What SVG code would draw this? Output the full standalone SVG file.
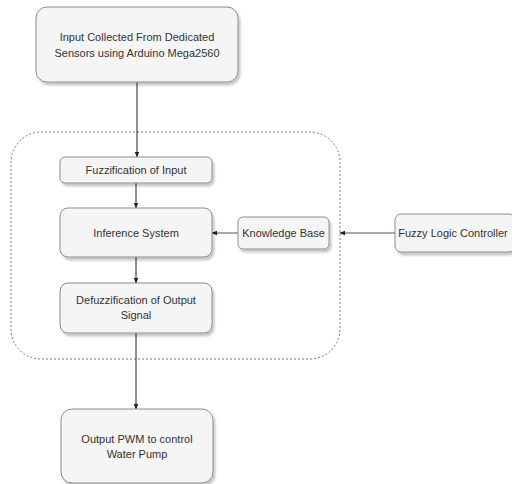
<svg xmlns="http://www.w3.org/2000/svg" width="512" height="484" viewBox="0 0 512 484">
<defs>
<marker id="ah" viewBox="0 0 10 10" refX="9" refY="5" markerWidth="6" markerHeight="6" orient="auto" markerUnits="userSpaceOnUse">
<path d="M0,1 L10,5 L0,9 Z" fill="#222"/>
</marker>
<filter id="sh" x="-10%" y="-10%" width="130%" height="140%">
<feDropShadow dx="2" dy="3" stdDeviation="1" flood-color="#000" flood-opacity="0.22"/>
</filter>
<style>
.box{fill:#f5f5f5;stroke:#8c8c8c;stroke-width:1;filter:url(#sh);}
.t{font-family:"Liberation Sans",Arial,sans-serif;font-size:11px;fill:#333;text-anchor:middle;}
.c{stroke:#222;stroke-width:1;fill:none;marker-end:url(#ah);}
.c2{stroke:#555;stroke-width:1;fill:none;marker-end:url(#ah);}
</style>
</defs>
<rect width="512" height="484" fill="#fff"/>
<rect x="11" y="132" width="329" height="227" rx="30" ry="30" fill="none" stroke="#777" stroke-width="1" stroke-dasharray="2,2"/>
<g id="connectors">
<path class="c" d="M137,82 L137,157"/>
<path class="c" d="M136,183 L136,208"/>
<path class="c2" d="M238,233 L212,233"/>
<path class="c2" d="M395,233 L340,233"/>
<path class="c" d="M136,257 L136,283"/>
<path class="c" d="M136,333 L136,409"/>
</g>
<g id="input">
<rect class="box" x="36" y="7" width="202" height="75" rx="11"/>
<text class="t" x="137" y="41">Input Collected From Dedicated</text>
<text class="t" x="137" y="57">Sensors using Arduino Mega2560</text>
</g>
<g id="fuzzification">
<rect class="box" x="60" y="157" width="152" height="26" rx="5"/>
<text class="t" x="136" y="174">Fuzzification of Input</text>
</g>
<g id="inference">
<rect class="box" x="60" y="208" width="152" height="49" rx="8"/>
<text class="t" x="136" y="236.5">Inference System</text>
</g>
<g id="knowledge">
<rect class="box" x="238" y="217" width="91" height="32" rx="5"/>
<text class="t" x="283.5" y="237">Knowledge Base</text>
</g>
<g id="flc">
<rect class="box" x="395" y="214" width="120" height="38" rx="6"/>
<text class="t" x="453" y="237">Fuzzy Logic Controller</text>
</g>
<g id="defuzzification">
<rect class="box" x="60" y="283" width="152" height="50" rx="8"/>
<text class="t" x="136" y="304">Defuzzification of Output</text>
<text class="t" x="136" y="319">Signal</text>
</g>
<g id="output">
<rect class="box" x="61" y="409" width="152" height="74" rx="11"/>
<text class="t" x="137" y="443">Output PWM to control</text>
<text class="t" x="137" y="458">Water Pump</text>
</g>
</svg>
